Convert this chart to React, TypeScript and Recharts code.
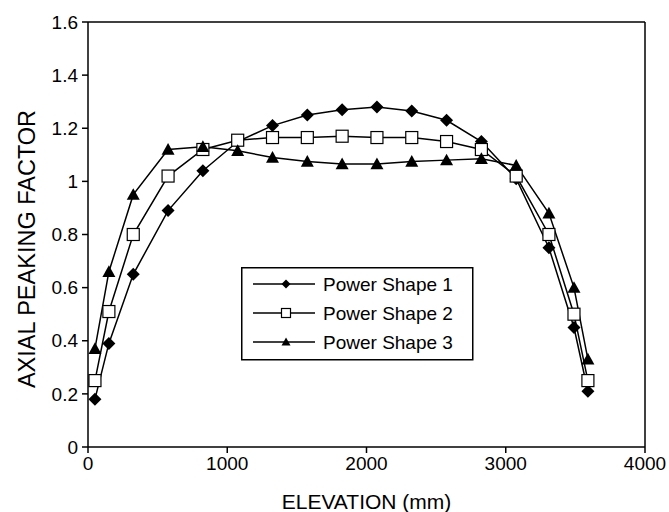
import React from 'react';
import { LineChart, Line, XAxis, YAxis, ReferenceLine, Label } from 'recharts';

const elevation = [50, 150, 325, 575, 825, 1075, 1325, 1575, 1825, 2075, 2325, 2575, 2825, 3075, 3310, 3490, 3590];
const shape1 = [0.18, 0.39, 0.65, 0.89, 1.04, 1.15, 1.21, 1.25, 1.27, 1.28, 1.265, 1.23, 1.15, 1.01, 0.75, 0.45, 0.21];
const shape2 = [0.25, 0.51, 0.8, 1.02, 1.12, 1.155, 1.165, 1.165, 1.17, 1.165, 1.165, 1.15, 1.12, 1.02, 0.8, 0.5, 0.25];
const shape3 = [0.37, 0.66, 0.95, 1.12, 1.13, 1.115, 1.09, 1.075, 1.065, 1.065, 1.075, 1.08, 1.085, 1.06, 0.88, 0.6, 0.33];

const xTicks = [0, 1000, 2000, 3000, 4000];
const yTicks = [0, 0.2, 0.4, 0.6, 0.8, 1, 1.2, 1.4, 1.6];
const seriesNames = ['Power Shape 1', 'Power Shape 2', 'Power Shape 3'];

const chartData = elevation.map((x, i) => ({
  x,
  s1: shape1[i],
  s2: shape2[i],
  s3: shape3[i],
}));

const FONT = 'Liberation Sans, Arial, sans-serif';

const Diamond = ({ cx, cy, r = 6.5 }: { cx: number; cy: number; r?: number }) => (
  <path d={`M${cx},${cy - r} L${cx + r},${cy} L${cx},${cy + r} L${cx - r},${cy} Z`} fill="#000" />
);
const Square = ({ cx, cy, r = 6 }: { cx: number; cy: number; r?: number }) => (
  <rect x={cx - r} y={cy - r} width={r * 2} height={r * 2} fill="#fff" stroke="#000" strokeWidth={1.2} />
);
const Triangle = ({ cx, cy, r = 6.5 }: { cx: number; cy: number; r?: number }) => (
  <path d={`M${cx},${cy - r} L${cx + r},${cy + r * 0.8} L${cx - r},${cy + r * 0.8} Z`} fill="#000" />
);

const markers = [Diamond, Square, Triangle];

const dotFor = (Marker: any) => (props: any) => {
  const { cx, cy, index } = props;
  if (cx == null || cy == null) return <g key={`d-${index}`} />;
  return (
    <g key={`d-${index}`}>
      <Marker cx={cx} cy={cy} />
    </g>
  );
};

// legend sits inside the plot, so draw it on top instead of letting recharts reserve space
const LegendBox = () => (
  <svg width={233} height={94} style={{ display: 'block' }}>
    <rect x={0.75} y={0.75} width={231} height={92} fill="#fff" stroke="#000" strokeWidth={1.5} />
    {seriesNames.map((name, i) => {
      const Marker = markers[i];
      const y = 17 + i * 29;
      return (
        <g key={name}>
          <line x1={12} x2={74} y1={y} y2={y} stroke="#000" strokeWidth={1.5} />
          <Marker cx={45} cy={y} r={4.5} />
          <text x={82} y={y + 6.5} fontSize={19} fontFamily={FONT} fill="#000">
            {name}
          </text>
        </g>
      );
    })}
  </svg>
);

const YTitle = () => (
  <text
    x={35}
    y={249}
    transform="rotate(-90 35 249)"
    textAnchor="middle"
    fontSize={23.5}
    fontFamily={FONT}
    fill="#000"
  >
    AXIAL PEAKING FACTOR
  </text>
);

export default function App() {
  return (
    <div style={{ position: 'absolute', left: 0, top: 0, width: 669, height: 512, background: '#fff' }}>
      <LineChart
        width={669}
        height={512}
        data={chartData}
        margin={{ top: 22, right: 24, left: 0, bottom: 0 }}
      >
        <XAxis
          dataKey="x"
          type="number"
          domain={[0, 4000]}
          ticks={xTicks}
          height={65}
          stroke="#000"
          strokeWidth={1.5}
          tickSize={6}
          tick={{ fill: '#000', fontSize: 19, fontFamily: FONT }}
          tickMargin={4}
        >
          <Label value="ELEVATION (mm)" position="insideBottom" offset={3} fill="#000" fontSize={21} fontFamily={FONT} />
        </XAxis>
        <YAxis
          type="number"
          domain={[0, 1.6]}
          ticks={yTicks}
          width={88}
          stroke="#000"
          strokeWidth={1.5}
          tickSize={6}
          tick={{ fill: '#000', fontSize: 19, fontFamily: FONT }}
          tickMargin={4}
          allowDataOverflow
        >
          <Label content={() => <YTitle />} />
        </YAxis>
        <ReferenceLine y={1.6} stroke="#000" strokeWidth={1.5} />
        <ReferenceLine x={4000} stroke="#000" strokeWidth={1.5} />
        <Line dataKey="s1" name={seriesNames[0]} stroke="#000" strokeWidth={1.5} dot={dotFor(Diamond)} isAnimationActive={false} />
        <Line dataKey="s2" name={seriesNames[1]} stroke="#000" strokeWidth={1.5} dot={dotFor(Square)} isAnimationActive={false} />
        <Line dataKey="s3" name={seriesNames[2]} stroke="#000" strokeWidth={1.5} dot={dotFor(Triangle)} isAnimationActive={false} />
      </LineChart>
      <div style={{ position: 'absolute', left: 241, top: 267 }}>
        <LegendBox />
      </div>
    </div>
  );
}
